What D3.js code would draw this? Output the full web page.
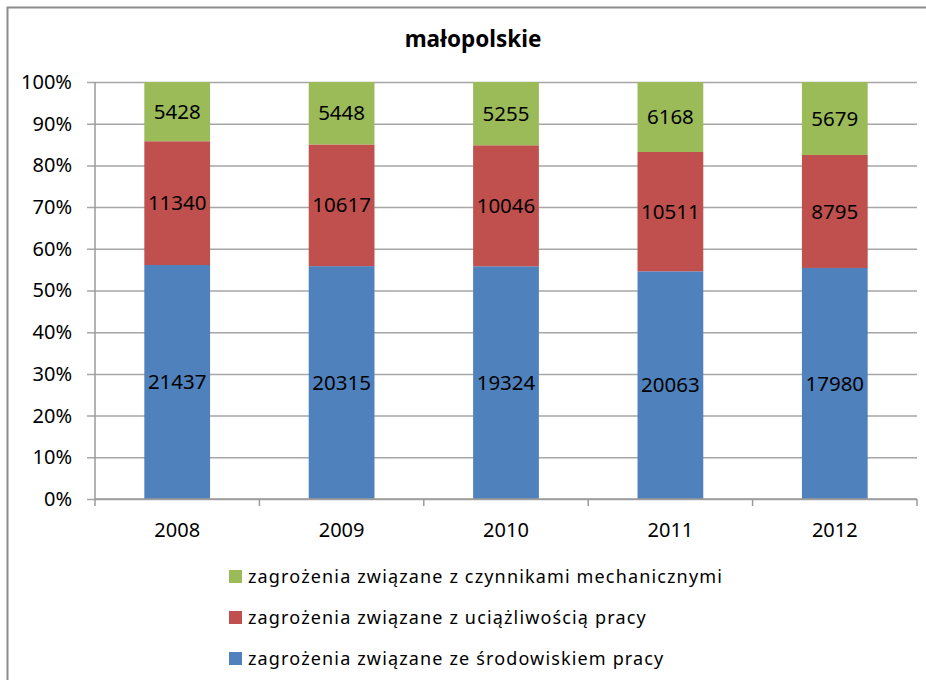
<!DOCTYPE html>
<html>
<head>
<meta charset="utf-8">
<script src="https://cdn.jsdelivr.net/npm/d3@7"></script>
<style>
  body { margin: 0; background: #fff; }
  text { font-family: "Noto Sans", "DejaVu Sans", sans-serif; }
</style>
</head>
<body>
<script>
// chart values
var years = ["2008", "2009", "2010", "2011", "2012"];
var seriesNames = [
    "zagrożenia związane ze środowiskiem pracy",
    "zagrożenia związane z uciążliwością pracy",
    "zagrożenia związane z czynnikami mechanicznymi"
];
var srodowisko = [21437, 20315, 19324, 20063, 17980];
var uciazliwosc = [11340, 10617, 10046, 10511, 8795];
var mechaniczne = [5428, 5448, 5255, 6168, 5679];
var yTicks = [0, 0.1, 0.2, 0.3, 0.4, 0.5, 0.6, 0.7, 0.8, 0.9, 1];
var colors = ["#4F81BD", "#C0504D", "#9BBB59"];

var svgWidth = 926;
var svgHeight = 680;

// plot area
var plot = { left: 95, right: 917, top: 82, bottom: 499 };
var chartWidth = plot.right - plot.left;
var chartHeight = plot.bottom - plot.top;

var svg = d3.select("body")
    .append("svg")
    .attr("width", svgWidth)
    .attr("height", svgHeight);

// chart border
svg.append("rect")
    .attr("x", 7.5)
    .attr("y", 7.5)
    .attr("width", 1000)
    .attr("height", 1000)
    .attr("fill", "none")
    .attr("stroke", "#8c8c8c")
    .attr("stroke-width", 2);

// title
svg.append("text")
    .attr("x", 473)
    .attr("y", 47)
    .attr("text-anchor", "middle")
    .attr("font-size", "22.5px")
    .attr("font-weight", "bold")
    .attr("fill", "#000")
    .text("małopolskie");

// build table for stacking
var table = years.map((yr, i) => ({
    year: yr,
    s0: srodowisko[i],
    s1: uciazliwosc[i],
    s2: mechaniczne[i]
}));

var stacked = d3.stack()
    .keys(["s0", "s1", "s2"])
    .offset(d3.stackOffsetExpand)(table);

var x = d3.scaleBand()
    .domain(years)
    .range([0, chartWidth])
    .paddingInner(0.6)
    .paddingOuter(0.3);

var y = d3.scaleLinear()
    .domain([0, 1])
    .range([chartHeight, 0]);

var chartGroup = svg.append("g")
    .attr("transform", `translate(${plot.left}, ${plot.top})`);

// gridlines (extend 8px left of axis as outside ticks)
var grid = chartGroup.append("g")
    .attr("transform", `translate(${chartWidth}, 0)`)
    .call(d3.axisLeft(y).tickValues(yTicks).tickSize(chartWidth + 8).tickFormat(""));
grid.select(".domain").remove();
grid.selectAll("line")
    .attr("stroke", "#a6a6a6")
    .attr("stroke-width", 1.5);

// y axis labels
var yAxis = chartGroup.append("g")
    .call(d3.axisLeft(y).tickValues(yTicks).tickSize(0).tickPadding(23)
        .tickFormat(d3.format(".0%")));
yAxis.select(".domain").remove();
yAxis.selectAll("text")
    .attr("font-size", "20px")
    .attr("font-family", "Noto Sans, sans-serif")
    .attr("fill", "#000");

// bars
var layers = chartGroup.selectAll(".layer")
    .data(stacked)
    .enter()
    .append("g")
    .attr("class", "layer")
    .attr("fill", (d, i) => colors[i]);

layers.selectAll("rect")
    .data(d => d)
    .enter()
    .append("rect")
    .attr("x", d => x(d.data.year))
    .attr("y", d => y(d[1]))
    .attr("width", x.bandwidth())
    .attr("height", d => y(d[0]) - y(d[1]));

// value labels
layers.selectAll(".val")
    .data((d) => d.map(v => ({ v: v, key: d.key })))
    .enter()
    .append("text")
    .attr("class", "val")
    .attr("x", d => x(d.v.data.year) + x.bandwidth() / 2)
    .attr("y", d => (y(d.v[0]) + y(d.v[1])) / 2)
    .attr("dy", "0.35em")
    .attr("text-anchor", "middle")
    .attr("font-size", "20.5px")
    .attr("fill", "#000")
    .text(d => d.v.data[d.key]);

// y axis line
chartGroup.append("line")
    .attr("x1", 0).attr("x2", 0)
    .attr("y1", 0).attr("y2", chartHeight + 7)
    .attr("stroke", "#9a9a9a")
    .attr("stroke-width", 1.5);

// x axis with ticks at band boundaries
var xAxisG = chartGroup.append("g")
    .attr("transform", `translate(0, ${chartHeight})`);
xAxisG.append("line")
    .attr("x1", 0).attr("x2", chartWidth)
    .attr("stroke", "#9a9a9a")
    .attr("stroke-width", 1.5);
xAxisG.selectAll(".xtick")
    .data(years)
    .enter()
    .append("line")
    .attr("x1", d => x(d) + x.bandwidth() + x.step() * x.paddingInner() / 2)
    .attr("x2", d => x(d) + x.bandwidth() + x.step() * x.paddingInner() / 2)
    .attr("y1", 0).attr("y2", 7)
    .attr("stroke", "#9a9a9a")
    .attr("stroke-width", 1.5);
xAxisG.selectAll(".xlab")
    .data(years)
    .enter()
    .append("text")
    .attr("x", d => x(d) + x.bandwidth() / 2)
    .attr("y", 38)
    .attr("text-anchor", "middle")
    .attr("font-size", "20px")
    .attr("fill", "#000")
    .text(d => d);

// legend (top to bottom: mechaniczne, uciazliwosc, srodowisko)
var legendOrder = [2, 1, 0];
var legend = svg.selectAll(".legend")
    .data(legendOrder)
    .enter()
    .append("g")
    .attr("class", "legend")
    .attr("transform", (d, i) => `translate(229, ${570 + i * 41})`);

legend.append("rect")
    .attr("width", 13)
    .attr("height", 13)
    .attr("fill", d => colors[d]);

legend.append("text")
    .attr("x", 19)
    .attr("y", 7)
    .attr("dy", "0.35em")
    .attr("font-size", "18px")
    .attr("letter-spacing", "1.15px")
    .attr("fill", "#000")
    .text(d => seriesNames[d]);
</script>
</body>
</html>
